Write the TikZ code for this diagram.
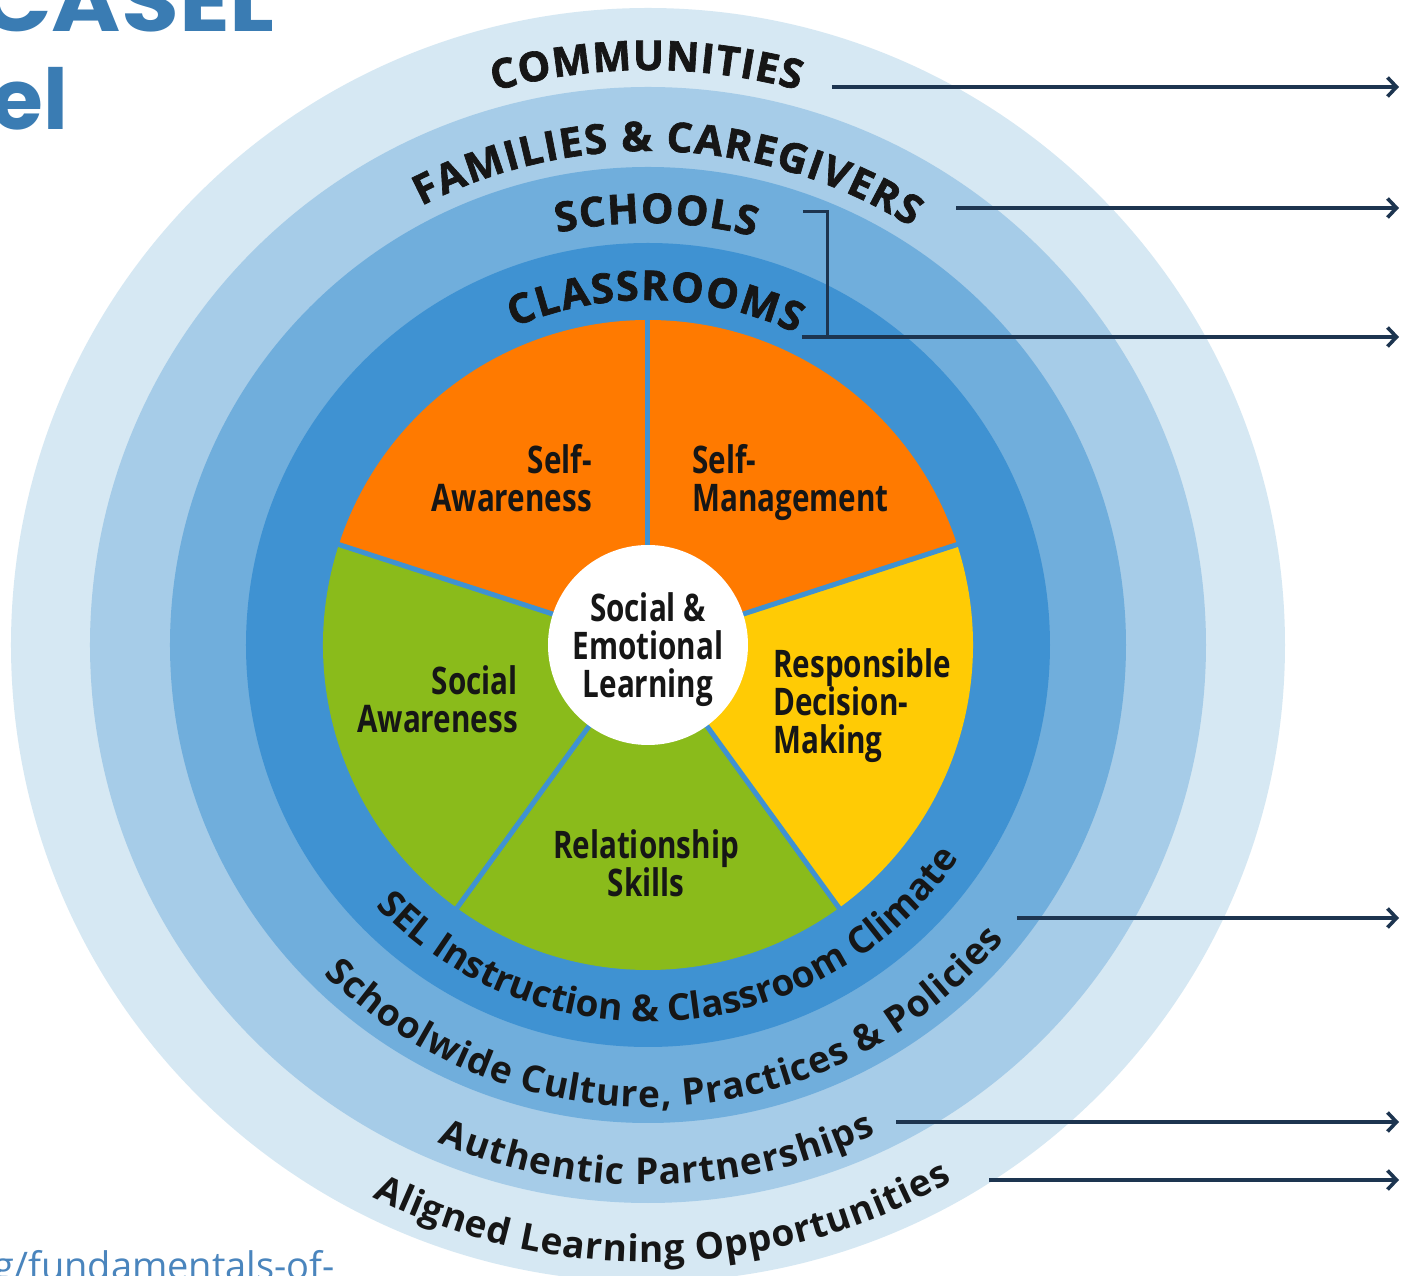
\documentclass[tikz,border=0pt]{standalone}
\usepackage{fontspec}
\usetikzlibrary{decorations.text,arrows.meta}
\setmainfont{Open Sans}
\newfontfamily\capsfont{Open Sans}
\newfontfamily\heavycaps[FakeBold=1.6]{Open Sans}
\newfontfamily\wedgefont[FakeStretch=0.78]{Open Sans}
\newfontfamily\titlefont{Poppins}

\definecolor{ringA}{HTML}{D6E8F3}
\definecolor{ringB}{HTML}{A6CCE8}
\definecolor{ringC}{HTML}{70AEDC}
\definecolor{ringD}{HTML}{3F92D2}
\definecolor{wedgeOrange}{HTML}{FF7A00}
\definecolor{wedgeYellow}{HTML}{FFCB05}
\definecolor{wedgeGreen}{HTML}{8ABB1B}
\definecolor{ink}{HTML}{161616}
\definecolor{navy}{HTML}{1D3550}
\definecolor{titleblue}{HTML}{3A7CB3}
\definecolor{linkblue}{HTML}{4A85BD}

\tikzset{
  divider/.style={draw=ringD, line width=5pt},
  hub/.style={circle, fill=white, minimum size=200pt, inner sep=0pt},
  wedgelabel/.style={inner sep=0pt, text=ink,
    font=\wedgefont\bfseries\fontsize{38}{38}\selectfont},
  pointer/.style={draw=navy, line width=3.6pt, -{Straight Barb[length=9pt,width=19pt]}},
  bracket/.style={draw=navy, line width=3pt},
  toparc/.style={decorate, decoration={text along path, text align={fit to path},
    text color=ink, text={|\heavycaps\bfseries\fontsize{41}{41}\selectfont|#1}}},
  lowarc/.style={decorate, decoration={text along path, text align={fit to path},
    text color=ink, text={|\capsfont\bfseries\fontsize{37}{37}\selectfont|#1}}},
  headline/.style={anchor=base east, inner sep=0pt, text=titleblue,
    font=\titlefont\bfseries\fontsize{84}{84}\selectfont},
}

\begin{document}
\begin{tikzpicture}[x=1pt,y=1pt]
\useasboundingbox (-648,-631) rectangle (753,645);
\fill[white] (-648,-631) rectangle (753,645);

% nested context rings
\fill[ringA] (0,0) circle[radius=637pt];
\fill[ringB] (0,0) circle[radius=558pt];
\fill[ringC] (0,0) circle[radius=478pt];
\fill[ringD] (0,0) circle[radius=402pt];

% five competency wedges
\fill[wedgeOrange] (0,0) -- (90:325pt) arc[start angle=90, end angle=162, radius=325pt] -- cycle;
\fill[wedgeOrange] (0,0) -- (18:325pt) arc[start angle=18, end angle=90, radius=325pt] -- cycle;
\fill[wedgeYellow] (0,0) -- (-54:325pt) arc[start angle=-54, end angle=18, radius=325pt] -- cycle;
\fill[wedgeGreen] (0,0) -- (234:325pt) arc[start angle=234, end angle=306, radius=325pt] -- cycle;
\fill[wedgeGreen] (0,0) -- (162:325pt) arc[start angle=162, end angle=234, radius=325pt] -- cycle;
\foreach \a in {18,90,162,234,306}
  \draw[divider] (\a:95pt) -- (\a:327pt);

\node[hub] (core) at (0,0) {};
\node[wedgelabel, align=center, anchor=base] (coretext) at (0,-53) {Social \&\\Emotional\\Learning};

\node[wedgelabel, align=right, anchor=base east] (selfaw) at (-56,133) {Self-\\Awareness};
\node[wedgelabel, align=left, anchor=base west] (selfmg) at (44,133) {Self-\\Management};
\node[wedgelabel, align=left, anchor=base west] (decide) at (125,-109) {Responsible\\Decision-\\Making};
\node[wedgelabel, align=center, anchor=base] (relate) at (-2,-252) {Relationship\\Skills};
\node[wedgelabel, align=right, anchor=base east] (socaw) at (-130,-88) {Social\\Awareness};

% ring names along the top
\path[toparc={COMMUNITIES}] (105.5:575pt) arc[start angle=105.5, end angle=74.8, radius=575pt];
\path[toparc={FAMILIES {\&} CAREGIVERS}] (117.3:494pt) arc[start angle=117.3, end angle=57.8, radius=494pt];
\path[toparc={SCHOOLS}] (102.4:422pt) arc[start angle=102.4, end angle=75.4, radius=422pt];
\path[toparc={CLASSROOMS}] (112.9:345pt) arc[start angle=112.9, end angle=64.6, radius=345pt];

% practices along the bottom
\path[lowarc={SEL Instruction {\&} Classroom Climate}] (223.8:377pt) arc[start angle=223.8, end angle=324.8, radius=377pt];
\path[lowarc={Schoolwide Culture, Practices {\&} Policies}] (225.4:462pt) arc[start angle=225.4, end angle=320.4, radius=462pt];
\path[lowarc={Authentic Partnerships}] (247.1:540pt) arc[start angle=247.1, end angle=295, radius=540pt];
\path[lowarc={Aligned Learning Opportunities}] (243.5:617pt) arc[start angle=243.5, end angle=299.5, radius=617pt];

% callout arrows
\coordinate (a1s) at (184,558);  \coordinate (a1e) at (751,558);
\coordinate (a2s) at (308,437);  \coordinate (a2e) at (751,437);
\coordinate (schA) at (155,433); \coordinate (brk) at (180,308);
\coordinate (a3s) at (154,308);  \coordinate (a3e) at (751,308);
\coordinate (a4s) at (369,-273); \coordinate (a4e) at (751,-273);
\coordinate (a5s) at (248,-477); \coordinate (a5e) at (751,-477);
\coordinate (a6s) at (341,-535); \coordinate (a6e) at (751,-535);
\draw[pointer] (a1s) -- (a1e);
\draw[pointer] (a2s) -- (a2e);
\draw[bracket] (schA) -| (brk);
\draw[pointer] (a3s) -- (a3e);
\draw[pointer] (a4s) -- (a4e);
\draw[pointer] (a5s) -- (a5e);
\draw[pointer] (a6s) -- (a6e);

% heading and link fragments
\node[headline] (title1) at (-373,613) {\scalebox{1.12}[1]{CASEL}};
\node[headline] (title2) at (-580,515) {el};
\node[anchor=base east, inner sep=0pt, text=linkblue,
  font=\fontsize{38}{38}\selectfont] (url) at (-313,-634) {g/fundamentals-of-};
\end{tikzpicture}
\end{document}
